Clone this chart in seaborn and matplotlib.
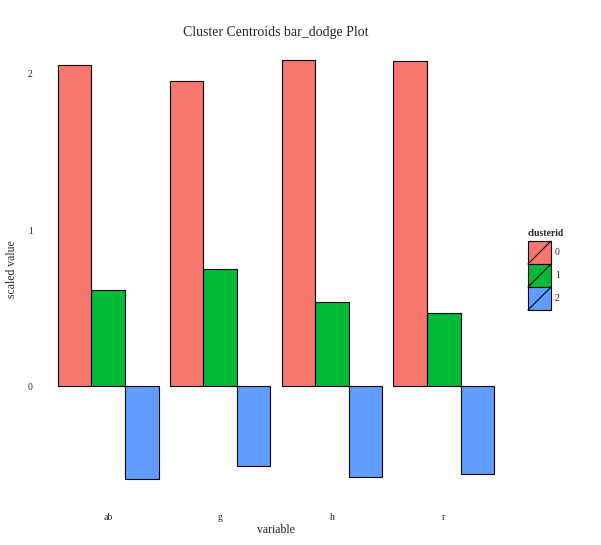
import matplotlib
matplotlib.use("Agg")
import matplotlib.pyplot as plt
import seaborn as sns
import pandas as pd
from matplotlib.patches import Rectangle
from matplotlib.lines import Line2D

variables = ["ab", "g", "h", "r"]
clusters = ["0", "1", "2"]
vals_0 = [2.06, 1.955, 2.09, 2.085]
vals_1 = [0.615, 0.75, 0.538, 0.468]
vals_2 = [-0.596, -0.513, -0.583, -0.564]
colors = ["#F8766D", "#00BA38", "#619CFF"]

rows = []
for c, vals in zip(clusters, [vals_0, vals_1, vals_2]):
    for v, val in zip(variables, vals):
        rows.append({"variable": v, "clusterid": c, "value": val})
df = pd.DataFrame(rows)

sns.set_style("white")
plt.rcParams["font.family"] = ["Liberation Serif", "DejaVu Serif"]

W, H = 601, 545
fig = plt.figure(figsize=(W / 100, H / 100), dpi=100)
L, R, T, B = 41, 511, 39, 500
ax = fig.add_axes([L / W, (H - B) / H, (R - L) / W, (B - T) / H])

sns.barplot(data=df, x="variable", y="value", hue="clusterid", order=variables,
            hue_order=clusters, palette=colors, width=0.9, gap=0, ax=ax,
            edgecolor="black", linewidth=0.8, saturation=1, legend=False, errorbar=None)

ax.set_xlim(-0.6, 3.6)
ymin = min(vals_2); ymax = max(vals_0)
rng = ymax - ymin
ax.set_ylim(ymin - 0.05 * rng, ymax + 0.05 * rng)
ax.set_yticks([0, 1, 2])
for s in ax.spines.values():
    s.set_visible(False)
ax.tick_params(axis="both", length=0, labelsize=7)
ax.tick_params(axis="y", pad=6)
ax.tick_params(axis="x", pad=9)
ax.set_xlabel("variable", fontsize=8.5, labelpad=2)
ax.set_ylabel("scaled value", fontsize=8.5, labelpad=7)
ax.set_title("Cluster Centroids bar_dodge Plot", fontsize=10, pad=2)

# legend
fig.text(528 / W, 1 - 233 / H, "clusterid", fontsize=7, fontweight="bold",
         ha="left", va="center")
kx0, kx1 = 528, 551
ky = [241, 264, 287, 310]
for i, (lab, col) in enumerate(zip(clusters, colors)):
    y0, y1 = ky[i], ky[i + 1]
    fig.patches.append(Rectangle((kx0 / W, 1 - y1 / H), (kx1 - kx0) / W, (y1 - y0) / H,
                                 transform=fig.transFigure, facecolor=col,
                                 edgecolor="black", linewidth=0.8))
    fig.lines.append(Line2D([kx0 / W, kx1 / W], [1 - y1 / H, 1 - y0 / H],
                            transform=fig.transFigure, color="black", linewidth=0.8))
    fig.text(555 / W, 1 - (y0 + y1) / 2 / H, lab, fontsize=7, ha="left", va="center")

fig.savefig("out.png", dpi=100, facecolor="white")
